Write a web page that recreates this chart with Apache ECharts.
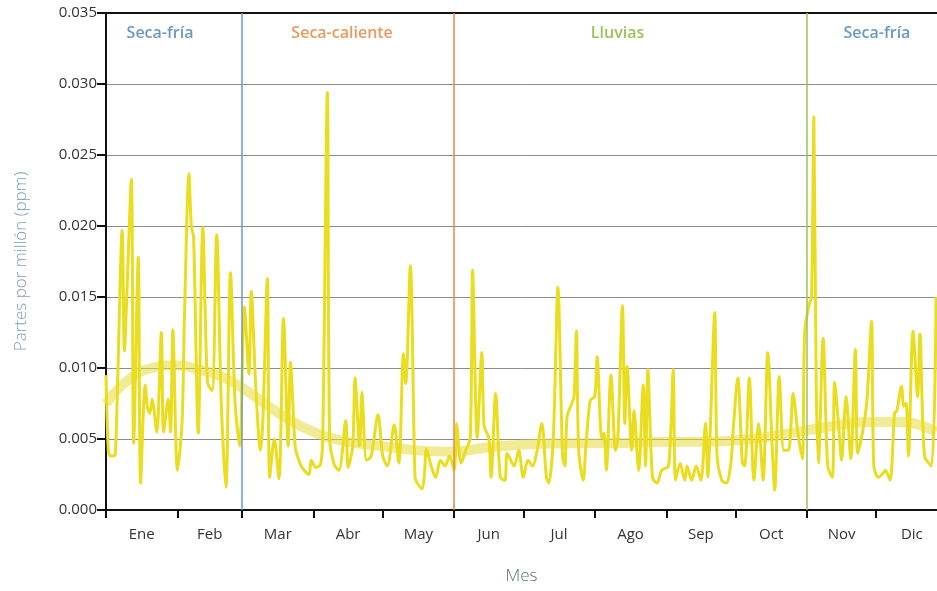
<!DOCTYPE html>
<html>
<head>
<meta charset="utf-8">
<script src="https://cdn.jsdelivr.net/npm/echarts@6/dist/echarts.min.js"></script>
<style>
  html, body { margin: 0; background: #fff; }
  #chart { width: 937px; height: 591px; }
</style>
</head>
<body>
<div id="chart"></div>
<script>
// meses y día del año en que empieza cada uno
const meses = ['Ene', 'Feb', 'Mar', 'Abr', 'May', 'Jun', 'Jul', 'Ago', 'Sep', 'Oct', 'Nov', 'Dic']
const inicioMes = [0, 31, 59, 90, 120, 151, 181, 212, 243, 273, 304, 334, 365]

// temporadas
const temporadas = ['Seca-fría', 'Seca-caliente', 'Lluvias', 'Seca-fría']
const inicioTemporada = [0, 59, 151, 304]
const finTemporada = [59, 151, 304, 365]

// concentración diaria (día del año, ppm)
const dias = [
  0, 1, 2, 3, 4, 5, 7, 8, 9, 11, 12, 14, 15, 17, 18, 19, 20, 22, 24, 25, 27, 28, 29,
  31, 33, 34, 36, 37, 38, 40, 42, 44, 46, 48, 50, 52, 54, 56, 58,
  60, 62, 63, 65, 67, 68, 70, 71, 73, 75, 77, 79, 80, 82, 83, 85, 88, 89,
  91, 93, 94, 96, 97, 99, 101, 104, 105, 107, 108, 110, 111, 113, 115, 118,
  120, 122, 125, 127, 129, 130, 132, 134, 135, 137, 138, 139, 141, 143, 145, 147, 149,
  151, 152, 154, 156, 158, 159, 161, 163, 164, 166, 167, 169, 171, 173, 174, 177, 179,
  181, 183, 185, 187, 189, 191, 192, 194, 196, 198, 199, 200, 202, 203, 204, 205, 207, 208, 210,
  212, 213, 215, 216, 217, 219, 221, 222, 224, 225, 226, 228, 229, 231, 233, 234, 235, 237, 239, 241,
  244, 246, 247, 249, 251, 252, 254, 256, 258, 260, 261, 262, 264, 265, 267, 269, 271, 272,
  274, 276, 277, 279, 281, 283, 285, 287, 289, 290, 292, 294, 296, 298, 300, 302, 303,
  305, 306, 307, 308, 309, 311, 313, 315, 316, 318, 319, 321, 323, 325, 326, 328, 330, 332, 333,
  335, 337, 338, 340, 342, 343, 345, 346, 347, 348, 350, 352, 353, 355, 358, 360
]
const ppm = [
  0.0095, 0.0042, 0.0038, 0.0038, 0.0039, 0.0088, 0.0197, 0.0112, 0.0150, 0.0233, 0.0047, 0.0178, 0.0019, 0.0088, 0.0072, 0.0068, 0.0078, 0.0055, 0.0125, 0.0055, 0.0078, 0.0055, 0.0127,
  0.0028, 0.0062, 0.0135, 0.0237, 0.0200, 0.0192, 0.0054, 0.0199, 0.0090, 0.0084, 0.0194, 0.0075, 0.0016, 0.0167, 0.0075, 0.0045,
  0.0143, 0.0096, 0.0154, 0.0085, 0.0042, 0.0062, 0.0163, 0.0023, 0.0050, 0.0022, 0.0135, 0.0045, 0.0104, 0.0045, 0.0038, 0.0030, 0.0025, 0.0035,
  0.0030, 0.0032, 0.0050, 0.0294, 0.0050, 0.0032, 0.0028, 0.0063, 0.0030, 0.0045, 0.0093, 0.0045, 0.0083, 0.0035, 0.0038, 0.0067,
  0.0038, 0.0031, 0.0060, 0.0033, 0.0110, 0.0089, 0.0172, 0.0023, 0.0019, 0.0015, 0.0023, 0.0043, 0.0031, 0.0023, 0.0035, 0.0031, 0.0038,
  0.0028, 0.0061, 0.0033, 0.0042, 0.0051, 0.0169, 0.0051, 0.0111, 0.0059, 0.0051, 0.0023, 0.0082, 0.0023, 0.0021, 0.0040, 0.0031, 0.0042,
  0.0023, 0.0035, 0.0031, 0.0042, 0.0061, 0.0023, 0.0019, 0.0051, 0.0157, 0.0038, 0.0031, 0.0066, 0.0075, 0.0080, 0.0126, 0.0042, 0.0021, 0.0042, 0.0077,
  0.0080, 0.0108, 0.0051, 0.0054, 0.0028, 0.0095, 0.0042, 0.0051, 0.0144, 0.0061, 0.0101, 0.0042, 0.0070, 0.0028, 0.0088, 0.0031, 0.0099, 0.0023, 0.0019, 0.0028,
  0.0031, 0.0099, 0.0021, 0.0033, 0.0021, 0.0031, 0.0021, 0.0031, 0.0021, 0.0061, 0.0023, 0.0054, 0.0139, 0.0038, 0.0021, 0.0019, 0.0033, 0.0056,
  0.0093, 0.0033, 0.0031, 0.0093, 0.0021, 0.0061, 0.0021, 0.0111, 0.0042, 0.0014, 0.0094, 0.0042, 0.0042, 0.0082, 0.0055, 0.0036, 0.0125,
  0.0145, 0.0150, 0.0277, 0.0090, 0.0033, 0.0121, 0.0031, 0.0023, 0.0090, 0.0054, 0.0035, 0.0080, 0.0036, 0.0113, 0.0040, 0.0054, 0.0077, 0.0133, 0.0031,
  0.0023, 0.0026, 0.0028, 0.0021, 0.0068, 0.0070, 0.0087, 0.0073, 0.0075, 0.0038, 0.0126, 0.0080, 0.0124, 0.0038, 0.0031, 0.0150
]

// tendencia suavizada
const tendenciaDias = [0, 10, 20, 30, 40, 50, 60, 75, 90, 105, 120, 135, 150, 165, 180, 200, 220, 240, 260, 280, 300, 315, 330, 345, 360]
const tendencia = [0.0075, 0.0092, 0.0100, 0.0102, 0.0099, 0.0094, 0.0085, 0.0068, 0.0055, 0.0048, 0.0045, 0.0042, 0.0041, 0.0044, 0.0046, 0.0047, 0.0047, 0.0048, 0.0048, 0.0050, 0.0055, 0.0059, 0.0062, 0.0062, 0.0055]

const coloresTemporada = ['#6a9ac4', '#e99a5c', '#9cc25a', '#6a9ac4']
const colorLinea = ['#6a9ac4', '#e8894a', '#9cc25a']
const desfaseEtiqueta = [-14, -6, -13, 5]

const fuente = '"Open Sans", "DejaVu Sans", sans-serif'
const centroMes = meses.map((m, i) => (inicioMes[i] + inicioMes[i + 1]) / 2)

const chart = echarts.init(document.getElementById('chart'))
chart.setOption({
  animation: false,
  grid: { left: 106, top: 13, right: 0, bottom: 81, outerBoundsMode: 'none' },
  xAxis: [{
    type: 'value',
    min: 0,
    max: 360.4,
    name: 'Mes',
    nameLocation: 'middle',
    nameGap: 58,
    nameTextStyle: { color: '#5d6d7c', fontSize: 17, fontFamily: fuente, fontWeight: 300 },
    axisLine: { lineStyle: { color: '#111', width: 2 } },
    axisTick: { length: 8, customValues: inicioMes, lineStyle: { color: '#111', width: 2 } },
    axisLabel: {
      customValues: centroMes,
      margin: 17,
      color: '#333',
      fontSize: 15,
      fontFamily: fuente,
      formatter: (v) => meses[centroMes.indexOf(v)] || '',
    },
    splitLine: { show: false },
  }, {
    type: 'value',
    position: 'top',
    min: 0,
    max: 360.4,
    axisLine: { show: true, lineStyle: { color: '#111', width: 2 } },
    axisTick: { show: false },
    axisLabel: { show: false },
    splitLine: { show: false },
  }],
  yAxis: {
    type: 'value',
    min: 0,
    max: 0.035,
    interval: 0.005,
    name: 'Partes por millón (ppm)',
    nameLocation: 'middle',
    nameGap: 76,
    nameTextStyle: { color: '#7f9db8', fontSize: 17, fontFamily: fuente, fontWeight: 300 },
    axisLine: { show: true, lineStyle: { color: '#111', width: 2 } },
    axisTick: { show: true, length: 9, lineStyle: { color: '#111', width: 2 } },
    axisLabel: {
      margin: 9,
      color: '#333',
      fontSize: 15,
      fontFamily: fuente,
      formatter: (v) => v.toFixed(3),
    },
    splitLine: { lineStyle: { color: '#8c8c8c', width: 1 } },
  },
  series: [{
    name: 'tendencia',
    type: 'line',
    smooth: true,
    symbol: 'none',
    data: tendenciaDias.map((d, i) => [d, tendencia[i]]),
    lineStyle: { color: 'rgba(228, 218, 60, 0.55)', width: 10 },
    z: 2,
  }, {
    name: 'ppm',
    type: 'line',
    smooth: 0.3,
    symbol: 'none',
    data: dias.map((d, i) => [d, ppm[i]]),
    lineStyle: { color: '#e9dd1e', width: 3 },
    z: 3,
    markLine: {
      silent: true,
      symbol: 'none',
      label: { show: false },
      data: inicioTemporada.slice(1).map((d, i) => ({
        xAxis: d,
        lineStyle: { color: colorLinea[i], width: 1.5, type: 'solid' },
      })),
    },
    markArea: {
      silent: true,
      itemStyle: { color: 'rgba(0,0,0,0)' },
      data: temporadas.map((t, i) => [{
        name: t,
        xAxis: inicioTemporada[i],
        label: {
          show: true,
          position: 'insideTop',
          distance: 12,
          offset: [desfaseEtiqueta[i], 0],
          color: coloresTemporada[i],
          fontSize: 16,
          fontWeight: 600,
          fontFamily: fuente,
        },
      }, { xAxis: finTemporada[i] }]),
    },
  }],
})
</script>
</body>
</html>
